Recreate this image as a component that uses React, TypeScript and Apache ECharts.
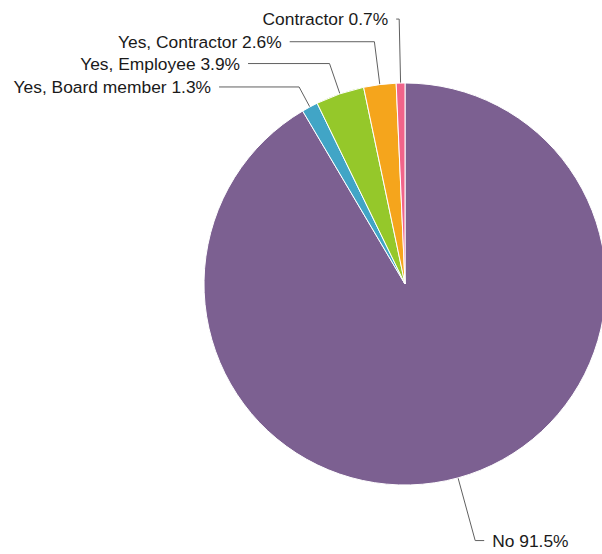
import React, { useEffect, useRef } from "react";
import * as echarts from "echarts";

const categories = [
  "No",
  "Yes, Board member",
  "Yes, Employee",
  "Yes, Contractor",
  "Contractor",
];
const percentValues = [91.5, 1.3, 3.9, 2.6, 0.7];
const sliceColors = ["#7C6091", "#41A5C6", "#95C82A", "#F5A51C", "#F0648A"];
// per-slice connector lengths (first segment, horizontal segment)
const lineLength1 = [65, 22.7, 32, 43.2, 64];
const lineLength2 = [9, 80, 81.5, 84.7, 3];

export default function App() {
  const ref = useRef<HTMLDivElement>(null);
  useEffect(() => {
    if (!ref.current) return;
    const chart = echarts.init(ref.current, undefined, { renderer: "svg" });
    const data = categories.map((name, i) => ({
      name,
      value: percentValues[i],
      itemStyle: { color: sliceColors[i] },
      labelLine: { length: lineLength1[i], length2: lineLength2[i] },
    }));
    chart.setOption({
      animation: false,
      series: [
        {
          type: "pie",
          center: [405, 284],
          radius: 201,
          startAngle: 90,
          clockwise: true,
          avoidLabelOverlap: false,
          itemStyle: { borderColor: "#ffffff", borderWidth: 1 },
          label: {
            show: true,
            position: "outside",
            distanceToLabelLine: 8,
            fontFamily: "'Liberation Sans', Arial, Helvetica, sans-serif",
            fontSize: 17.4,
            color: "#1a1a1a",
            formatter: (p: any) => `${p.name} ${p.value}%`,
          },
          labelLine: {
            show: true,
            smooth: false,
            lineStyle: { color: "#606060", width: 1 },
          },
          emphasis: { disabled: true },
          data,
        },
      ],
    });
    return () => chart.dispose();
  }, []);
  return (
    <div
      ref={ref}
      style={{ position: "absolute", left: 0, top: 0, width: 602, height: 554 }}
    />
  );
}
